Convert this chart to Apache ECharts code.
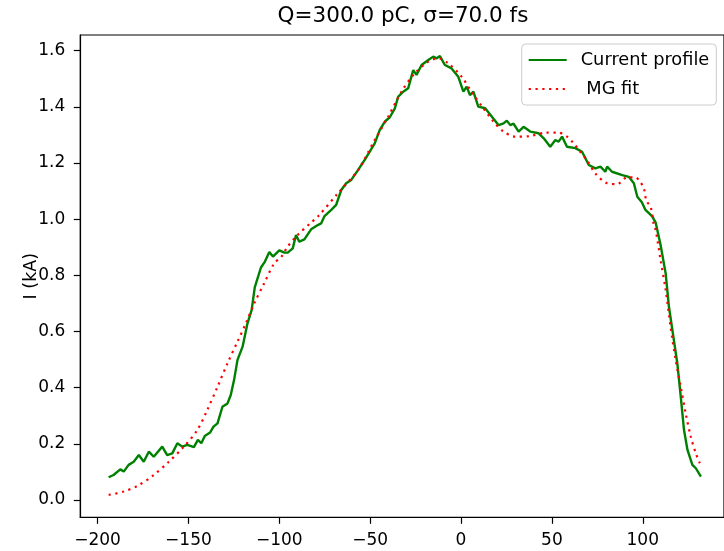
<!DOCTYPE html>
<html>
<head>
<meta charset="utf-8">
<script src="https://cdn.jsdelivr.net/npm/echarts@6/dist/echarts.min.js"></script>
<style>html,body{margin:0;padding:0;background:#fff}#c{width:724px;height:551px}</style>
</head>
<body>
<div id="c"></div>
<script>
const titleText = 'Q=300.0 pC, σ=70.0 fs';
const yLabel = 'I (kA)';
const xTicks = [-200, -150, -100, -50, 0, 50, 100];
const yTicks = [0.0, 0.2, 0.4, 0.6, 0.8, 1.0, 1.2, 1.4, 1.6];

const currentName = 'Current profile';
const currentX = [-193.9,-191.2,-187.5,-185.6,-182.9,-180.1,-177.3,-174.6,-171.8,-169.1,-164.4,-161.7,-158.9,-156.1,-153.4,-150.6,-147.0,-144.8,-142.9,-141.0,-138.1,-136.2,-134.0,-131.3,-128.5,-126.7,-124.9,-123.0,-120.2,-117.5,-115.2,-113.5,-110.1,-107.9,-105.5,-103.5,-100.0,-97.2,-95.4,-92.6,-90.8,-89.0,-86.2,-82.5,-78.8,-77.0,-75.1,-71.4,-68.7,-65.9,-63.2,-60.4,-56.7,-53.0,-50.3,-47.5,-44.7,-42.0,-39.2,-36.4,-34.6,-31.8,-29.1,-26.3,-24.5,-21.7,-18.0,-15.3,-13.4,-11.6,-8.9,-5.2,-1.5,1.3,3.1,4.9,6.8,9.5,13.3,17.0,20.7,23.4,25.2,27.1,28.9,31.7,34.4,38.1,42.7,45.5,49.1,51.9,53.7,55.6,58.3,62.9,66.6,70.3,73.9,76.7,79.4,80.4,83.1,88.7,92.3,95.1,97.0,99.5,101.5,105.2,107.1,109.8,112.6,114.4,116.3,119.0,120.9,122.7,124.6,127.3,129.2,132.0];
const currentY = [0.081,0.089,0.109,0.101,0.125,0.136,0.160,0.136,0.172,0.154,0.190,0.160,0.166,0.202,0.190,0.196,0.188,0.214,0.202,0.228,0.240,0.261,0.273,0.332,0.344,0.374,0.427,0.499,0.546,0.629,0.677,0.757,0.828,0.849,0.883,0.867,0.889,0.881,0.881,0.896,0.944,0.920,0.928,0.964,0.979,0.985,1.011,1.033,1.051,1.104,1.128,1.140,1.175,1.211,1.240,1.270,1.318,1.347,1.363,1.395,1.436,1.454,1.466,1.531,1.514,1.549,1.567,1.579,1.573,1.581,1.549,1.537,1.507,1.454,1.472,1.442,1.454,1.401,1.395,1.365,1.335,1.341,1.351,1.335,1.340,1.312,1.329,1.312,1.306,1.288,1.258,1.282,1.276,1.294,1.258,1.253,1.240,1.193,1.181,1.187,1.169,1.187,1.169,1.157,1.151,1.128,1.080,1.060,1.033,1.010,0.988,0.908,0.807,0.688,0.605,0.487,0.368,0.249,0.178,0.125,0.113,0.083];

const fitName = ' MG fit';
const fitX = [-193.9,-185.6,-177.3,-169.1,-160.8,-152.5,-145.1,-139.6,-134.0,-128.5,-123.0,-118.4,-113.8,-108.3,-102.8,-99.0,-95.4,-89.9,-82.5,-78.8,-67.8,-56.7,-47.5,-40.1,-32.8,-25.4,-18.0,-12.5,-7.0,0.4,5.9,12.3,17.9,23.4,29.8,38.1,46.4,53.7,58.3,62.0,65.6,69.3,73.9,80.4,85.9,91.4,96.0,98.3,100.6,102.0,104.3,106.1,107.1,109.8,112.6,115.3,118.1,120.9,123.6,126.4,129.2,131.4];
const fitY = [0.018,0.030,0.053,0.089,0.136,0.190,0.249,0.321,0.403,0.487,0.564,0.629,0.700,0.772,0.843,0.865,0.902,0.944,0.988,1.009,1.092,1.175,1.282,1.365,1.454,1.520,1.561,1.573,1.555,1.507,1.452,1.395,1.347,1.312,1.294,1.296,1.308,1.308,1.294,1.270,1.240,1.211,1.163,1.128,1.125,1.149,1.149,1.135,1.110,1.065,1.045,0.979,0.962,0.855,0.748,0.617,0.499,0.403,0.309,0.226,0.166,0.131];

const FONT = 'DejaVu Sans';
const fmtX = v => (v < 0 ? '\u2212' + Math.abs(v) : String(v));
const fmtY = v => (v < 0 ? '\u2212' + Math.abs(v).toFixed(1) : v.toFixed(1));

const chart = echarts.init(document.getElementById('c'), null, {renderer: 'canvas'});
chart.setOption({
  animation: false,
  backgroundColor: '#ffffff',
  graphic: [{
    type: 'text', x: 403, y: 16,
    style: {text: titleText, font: '21.5px "DejaVu Sans"', fill: '#000', align: 'center', verticalAlign: 'middle'}
  }],
  grid: {left: 80.3, top: 35, width: 644, height: 482.3, show: true, borderColor: '#000', borderWidth: 1.2, backgroundColor: 'transparent'},
  legend: {
    orient: 'vertical', left: 521.7, top: 44,
    data: [currentName, fitName],
    itemWidth: 38, itemHeight: 14, itemGap: 11,
    padding: [7, 7, 7, 6],
    backgroundColor: '#fff', borderColor: '#cccccc', borderWidth: 1, borderRadius: 4,
    itemStyle: {opacity: 0},
    textStyle: {fontFamily: FONT, fontSize: 17.8, color: '#000', padding: [0, 0, 0, 9]}
  },
  xAxis: {
    type: 'value', min: -209.5, max: 144.7,
    axisLine: {show: true, onZero: false, lineStyle: {color: '#000', width: 1.2}},
    axisTick: {show: true, length: 6.5, inside: false, customValues: xTicks, lineStyle: {color: '#000', width: 1.2}},
    axisLabel: {customValues: xTicks, formatter: fmtX, fontFamily: FONT, fontSize: 17, color: '#000', margin: 15, showMinLabel: true, showMaxLabel: true},
    splitLine: {show: false}
  },
  yAxis: {
    type: 'value', min: -0.0617, max: 1.656,
    name: yLabel, nameLocation: 'middle', nameRotate: 90, nameGap: 40, nameMoveOverlap: false,
    nameTextStyle: {fontFamily: FONT, fontSize: 17.5, color: '#000'},
    axisLine: {show: true, onZero: false, lineStyle: {color: '#000', width: 1.2}},
    axisTick: {show: true, length: 6.5, inside: false, customValues: yTicks, lineStyle: {color: '#000', width: 1.2}},
    axisLabel: {customValues: yTicks, formatter: fmtY, fontFamily: FONT, fontSize: 17, color: '#000', margin: 15},
    splitLine: {show: false}
  },
  series: [
    {
      name: currentName, type: 'line', showSymbol: false, symbol: 'none',
      data: currentX.map((x, i) => [x, currentY[i]]),
      lineStyle: {color: '#008000', width: 2.4},
      itemStyle: {color: '#008000'}, z: 2
    },
    {
      name: fitName, type: 'line', showSymbol: false, symbol: 'none', smooth: 0.3,
      data: fitX.map((x, i) => [x, fitY[i]]),
      lineStyle: {color: '#ff0000', width: 2.2, type: [2.2, 4.6], cap: 'butt'},
      itemStyle: {color: '#ff0000'}, z: 3
    }
  ]
});
</script>
</body>
</html>
